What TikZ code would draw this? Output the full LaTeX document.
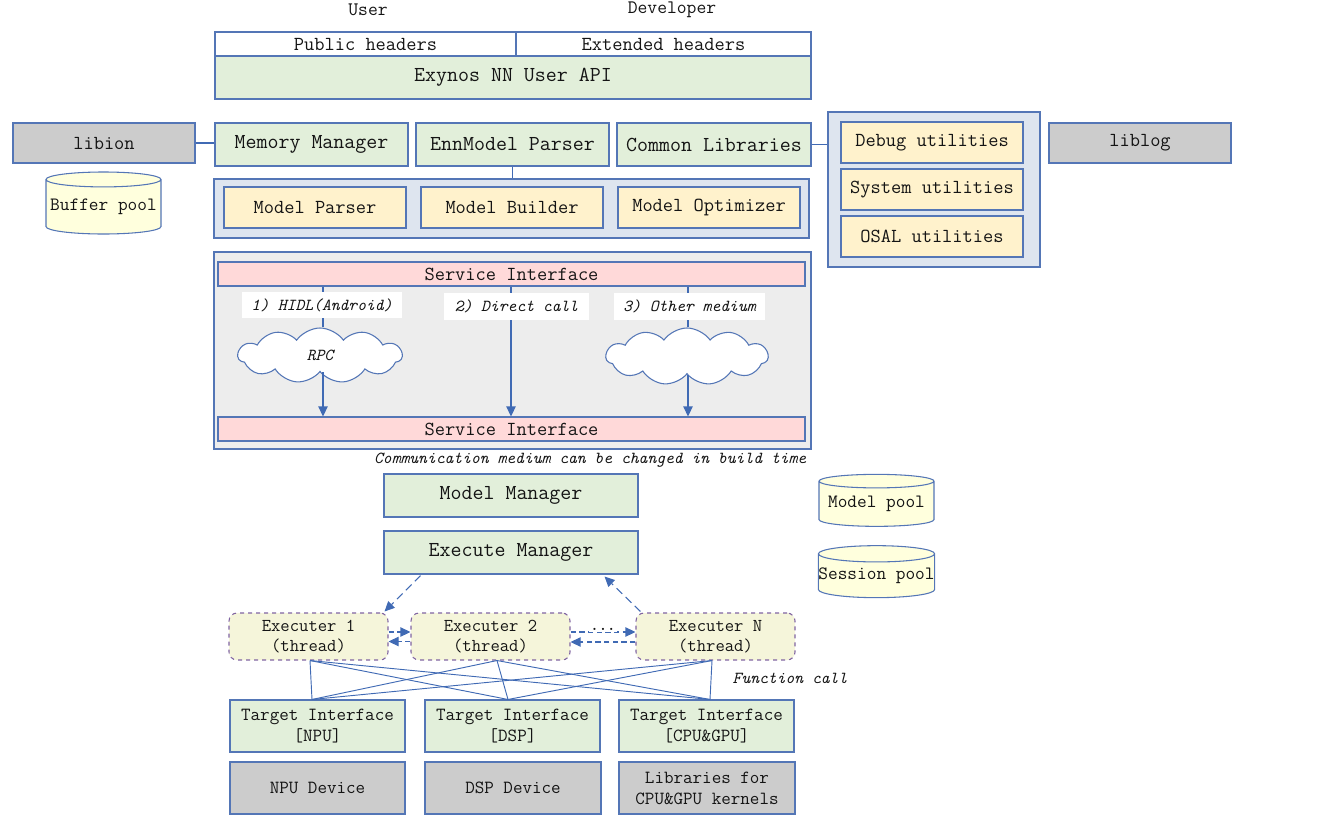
\documentclass[tikz,border=0pt]{standalone}
\usepackage{fontspec}
\usetikzlibrary{shapes.geometric,shapes.symbols,arrows.meta,calc}
\definecolor{bd}{RGB}{84,118,182}
\definecolor{ln}{RGB}{64,106,180}
\definecolor{green}{RGB}{226,239,218}
\definecolor{ylw}{RGB}{255,242,204}
\definecolor{cont}{RGB}{222,229,239}
\definecolor{gry}{RGB}{204,204,204}
\definecolor{pink}{RGB}{255,217,217}
\definecolor{svc}{RGB}{237,237,237}
\definecolor{cyl}{RGB}{255,255,221}
\definecolor{exf}{RGB}{245,245,218}
\definecolor{exb}{RGB}{128,100,162}
\definecolor{txt}{RGB}{20,20,20}
\newcommand{\fsz}[1]{\fontsize{#1}{#1}\ttfamily\selectfont}
\begin{document}
\begin{tikzpicture}[x=0.75pt,y=-0.75pt,
  sz/.style 2 args={minimum width=#1*0.75pt, minimum height=#2*0.75pt},
  box/.style={draw=bd, line width=0.8pt, inner sep=0pt, text=txt, align=center},
  gbox/.style={box, fill=green},
  ybox/.style={box, fill=ylw},
  graybox/.style={box, fill=gry},
  pbox/.style={box, fill=pink},
  contbox/.style={box, fill=cont},
  big/.style={font=\fsz{16pt}},
  mid/.style={font=\fsz{14.9pt}},
  sml/.style={font=\fsz{13.9pt}},
  itl/.style={font=\fsz{12.6pt}\itshape, text=txt},
  pool/.style={draw=bd, line width=0.8pt, fill=cyl, cylinder, shape border rotate=90, aspect=0.14, inner sep=0pt, text=txt, font=\fsz{14.1pt}},
  exec/.style={draw=exb, line width=0.8pt, dashed, rounded corners=6pt, fill=exf, inner sep=0pt, align=center, text=txt, font=\fsz{13.6pt}, sz={159}{47}},
  conn/.style={draw=ln, line width=0.8pt},
  arr/.style={conn, -{Triangle[width=7pt,length=7.5pt]}},
  darr/.style={conn, dash pattern=on 6pt off 3.5pt, -{Triangle[width=7pt,length=7.5pt]}},
  sdarr/.style={conn, dash pattern=on 4pt off 2.5pt, -{Triangle[width=7pt,length=7.5pt]}},
  cloudn/.style={cloud, cloud puffs=11, cloud puff arc=110, aspect=3, draw=bd, line width=0.8pt, fill=white, inner sep=0pt, text=txt, font=\fsz{12.6pt}\itshape},
  lbl/.style={fill=white, inner sep=0pt, font=\fsz{12.6pt}\itshape, text=txt}
]
\useasboundingbox (0,0) rectangle (1344,816);

% top
\node[text=txt, font=\fsz{14.3pt}] (user) at (368,10) {User};
\node[text=txt, font=\fsz{14.3pt}] (dev) at (672,10) {Developer};
\node[box, fill=white, mid, sz={301}{24}] (pub) at (365.5,44) {Public headers};
\node[box, fill=white, mid, sz={295}{24}] (ext) at (663.5,44) {Extended headers};
\node[gbox, big, sz={596}{43}] (api) at (513,77.5) {Exynos NN User API};

% row 2
\node[graybox, mid, sz={182}{40}] (libion) at (104,143) {libion};
\node[gbox, big, sz={193}{43}] (mem) at (311.5,144.5) {Memory Manager};
\node[gbox, big, sz={193}{43}] (enn) at (512.5,144.5) {EnnModel Parser};
\node[gbox, big, sz={194}{43}] (common) at (714,144.5) {Common Libraries};
\draw[conn] (libion.east) -- (libion.east -| mem.west);

\node[contbox, sz={595}{59}] (pcont) at (511.5,208.5) {};
\node[ybox, mid, sz={182}{41}] (mp) at (315,207.5) {Model Parser};
\node[ybox, mid, sz={182}{41}] (mb) at (512,207.5) {Model Builder};
\node[ybox, mid, sz={182}{41}] (mo) at (709,207.5) {Model Optimizer};
\draw[conn] (enn.south) -- (enn.south |- pcont.north);

\node[pool, minimum height=62*0.75pt, minimum width=115*0.75pt] (buffer) at (103.5,207) {Buffer pool};

% utilities
\node[contbox, sz={212}{155}] (ucont) at (934,189.5) {};
\node[ybox, mid, sz={182}{41}] (debug) at (932,142.5) {Debug utilities};
\node[ybox, mid, sz={182}{41}] (system) at (932,189.5) {System utilities};
\node[ybox, mid, sz={182}{41}] (osal) at (932,236.5) {OSAL utilities};
\draw[conn] (common.east) -- (common.east -| ucont.west);
\node[graybox, mid, sz={182}{40}] (liblog) at (1140,143) {liblog};

% service
\node[box, fill=svc, sz={597}{197}] (scont) at (512.5,350.5) {};
\node[pbox, mid, sz={587}{24}] (si1) at (511.5,274) {Service Interface};
\node[pbox, mid, sz={587}{24}] (si2) at (511.5,429) {Service Interface};
\node[lbl, sz={160}{26}] (l1) at (322,305) {1) HIDL(Android)};
\node[lbl, sz={145}{27}] (l2) at (516.5,306.5) {2) Direct call};
\node[lbl, sz={151}{27}] (l3) at (689.5,306.5) {3) Other medium};
\node[cloudn, sz={164}{55}] (c1) at (320,355.5) {RPC};
\node[cloudn, sz={162}{57}] (c2) at (687,356.5) {};
\coordinate (x1) at (323,0);
\coordinate (x2) at (511,0);
\coordinate (x3) at (688,0);
\draw[conn] (x1 |- si1.south) -- (x1 |- l1.north);
\draw[conn] (x1 |- l1.south) -- (x1 |- c1.north);
\draw[arr] (x1 |- c1.south) -- (x1 |- si2.north);
\draw[conn] (x2 |- si1.south) -- (x2 |- l2.north);
\draw[arr] (x2 |- l2.south) -- (x2 |- si2.north);
\draw[conn] (x3 |- si1.south) -- (x3 |- l3.north);
\draw[conn] (x3 |- l3.south) -- (x3 |- c2.north);
\draw[arr] (x3 |- c2.south) -- (x3 |- si2.north);
\node[itl, anchor=east] (note) at (811,460) {Communication medium can be changed in build time};

% managers
\node[gbox, big, sz={254}{43}] (mm) at (511,495.5) {Model Manager};
\node[gbox, big, sz={254}{43}] (em) at (511,552.5) {Execute Manager};
\node[pool, minimum height=52*0.75pt, minimum width=115*0.75pt] (mpool) at (876.5,504) {Model pool};
\node[pool, minimum height=52*0.75pt, minimum width=115*0.75pt] (spool) at (876.5,576) {Session pool};

% executers
\node[exec] (e1) at (308.5,636.5) {Executer 1\\[1pt](thread)};
\node[exec] (e2) at (490.5,636.5) {Executer 2\\[1pt](thread)};
\node[exec] (eN) at (715.5,636.5) {Executer N\\[1pt](thread)};
\draw[darr] ($(em.south west)+(37,1)$) -- ($(e1.north east)+(-4,-1)$);
\draw[darr] ($(eN.north west)+(5,-1)$) -- ($(em.south east)+(-34,2)$);
\draw[sdarr] ($(e1.east)+(0,-4.5)$) -- ($(e2.west)+(0,-4.5)$);
\draw[sdarr] ($(e2.west)+(0,5)$) -- ($(e1.east)+(0,5)$);
\draw[sdarr] ($(e2.east)+(0,-4.5)$) -- node[fill=white, inner sep=1pt, font=\fsz{12pt}\bfseries, text=txt, yshift=2pt] (dots) {...} ($(eN.west)+(0,-4.5)$);
\draw[sdarr] ($(eN.west)+(0,5.5)$) -- ($(e2.east)+(0,5.5)$);

% targets
\node[gbox, sml, sz={175}{52}] (t1) at (317.5,726) {Target Interface\\[2pt][NPU]};
\node[gbox, sml, sz={175}{52}] (t2) at (512.5,726) {Target Interface\\[2pt][DSP]};
\node[gbox, sml, sz={175}{52}] (t3) at (706.5,726) {Target Interface\\[2pt][CPU\&GPU]};
\node[graybox, sml, sz={175}{52}] (d1) at (317.5,788) {NPU Device};
\node[graybox, sml, sz={176}{52}] (d2) at (513,788) {DSP Device};
\node[graybox, sml, sz={176}{52}] (d3) at (707,788) {Libraries for\\[2pt]CPU\&GPU kernels};

\coordinate (e1b) at ($(e1.south)+(1.5,0)$);
\coordinate (e2b) at ($(e2.south)+(6.5,0)$);
\coordinate (eNb) at ($(eN.south)+(-3.5,0)$);
\coordinate (t1t) at ($(t1.north)+(-5.5,0)$);
\coordinate (t2t) at ($(t2.north)+(-4.5,0)$);
\coordinate (t3t) at ($(t3.north)+(3.5,0)$);
\foreach \a in {e1b,e2b,eNb}{
  \foreach \b in {t1t,t2t,t3t}{
    \draw[conn, line width=0.7pt] (\a) -- (\b);
  }
}
\node[itl] (func) at (790,678) {Function call};
\end{tikzpicture}
\end{document}
